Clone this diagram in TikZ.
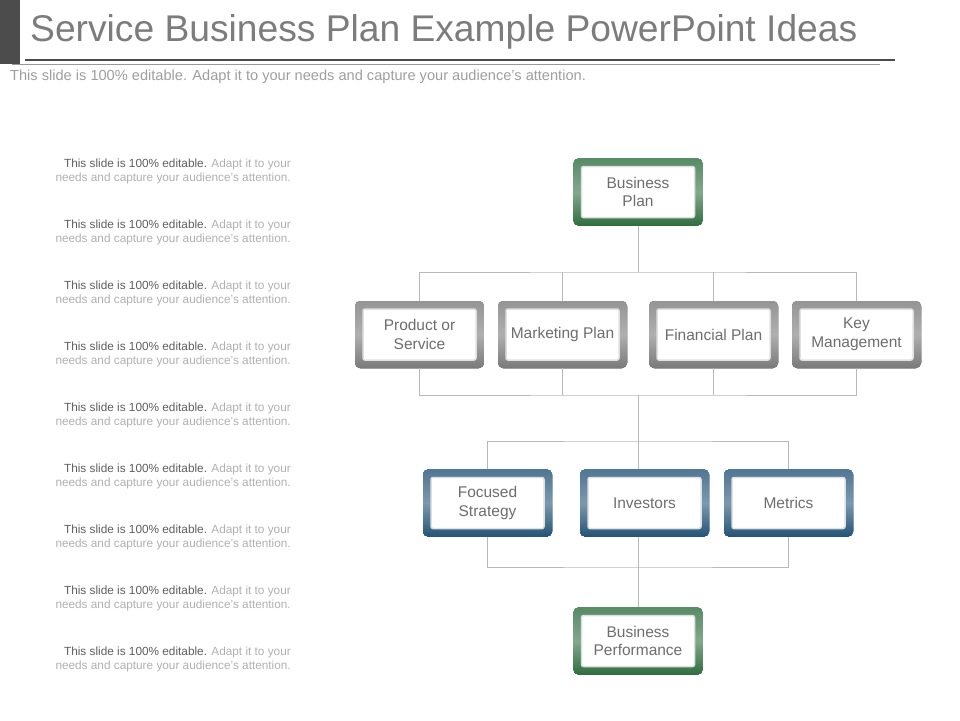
\documentclass[tikz,border=0pt]{standalone}
\usepackage{fontspec}
\setmainfont{Liberation Sans}
\usetikzlibrary{positioning,calc}
\definecolor{boxgreen}{HTML}{2F6E40}
\definecolor{boxgray}{HTML}{7A7A7A}
\definecolor{boxblue}{HTML}{245477}
\definecolor{txtgray}{HTML}{6E6E6E}
\definecolor{lightgray}{HTML}{B0B0B0}
\newcommand{\planbox}[4]{%
  \node (#1) [frame, top color=#4!80, bottom color=#4, middle color=#4!60] at (#2) {};
  \node (#1in) [inbox] at (#1) {#3};}
\newcommand{\sidenote}[2]{%
  \node (#1) [note] at (291,#2) {\textcolor{txtgray!85!black}{This slide is 100\% editable.} Adapt it to your\\needs and capture your audience's attention.};}
\begin{document}
\begin{tikzpicture}
  [
    x=1pt, y=-1pt,
    frame/.style={rectangle, rounded corners=5pt, minimum width=129pt, minimum height=67pt, inner sep=0pt},
    inbox/.style={rectangle, rounded corners=2pt, fill=white, draw=black!12, line width=1.5pt, minimum width=113pt, minimum height=51pt, inner sep=0pt, align=center, text=txtgray, font=\fontsize{15.5}{18.5}\selectfont},
    note/.style={anchor=north east, align=right, text=lightgray, inner sep=0pt, font=\fontsize{11.8}{14}\selectfont},
    link/.style={draw=black!28, line width=0.6pt},
  ]
  \useasboundingbox (0,0) rectangle (960,720);
  % title
  \fill[black!70] (0,0) rectangle (20,64);
  \node (title) [anchor=west, text=txtgray!90, font=\fontsize{37.2}{42}\selectfont, inner sep=0pt] at (30,32) {Service Business Plan Example PowerPoint Ideas};
  \draw[black!70, line width=1.2pt] (25,60) -- (895,60);
  \draw[black!40, line width=0.5pt] (12,64.5) -- (880,64.5);
  \node (sub) [anchor=west, text=lightgray!90!black, font=\fontsize{14.6}{17}\selectfont, inner sep=0pt] at (10,77) {This slide is 100\% editable. Adapt it to your needs and capture your audience's attention.};
  % side notes
  \foreach \n/\y in {1/159,2/220,3/281,4/342,5/403,6/464,7/525,8/586,9/647}
    \sidenote{note\n}{\y}
  % boxes
  \planbox{plan}{638,192}{Business\\Plan}{boxgreen}
  \planbox{prod}{419.5,334.5}{Product or\\Service}{boxgray}
  \planbox{mark}{562.5,334.5}{Marketing Plan}{boxgray}
  \planbox{fin}{713.5,334.5}{Financial Plan}{boxgray}
  \planbox{key}{856.5,334.5}{Key\\Management}{boxgray}
  \planbox{foc}{487.5,503}{Focused\\Strategy}{boxblue}
  \planbox{inv}{644.5,503}{Investors}{boxblue}
  \planbox{met}{788.5,503}{Metrics}{boxblue}
  \planbox{perf}{638,641}{Business\\Performance}{boxgreen}
  % junctions
  \coordinate (j1) at (638,272);
  \coordinate (j2) at (638,395);
  \coordinate (j3) at (638,441);
  \coordinate (j4) at (638,567);
  \draw[link] (plan) -- (j1);
  \draw[link] (prod.north) |- (j1) -| (key.north);
  \draw[link] (mark.north) -- (mark.north |- j1);
  \draw[link] (fin.north) -- (fin.north |- j1);
  \draw[link] (prod.south) |- (j2) -| (key.south);
  \draw[link] (mark.south) -- (mark.south |- j2);
  \draw[link] (fin.south) -- (fin.south |- j2);
  \draw[link] (j2) -- (j3);
  \draw[link] (foc.north) |- (j3) -| (met.north);
  \draw[link] (j3 |- inv.north) -- (j3);
  \draw[link] (foc.south) |- (j4) -| (met.south);
  \draw[link] (j3 |- inv.south) -- (j4);
  \draw[link] (j4) -- (perf);
\end{tikzpicture}
\end{document}
